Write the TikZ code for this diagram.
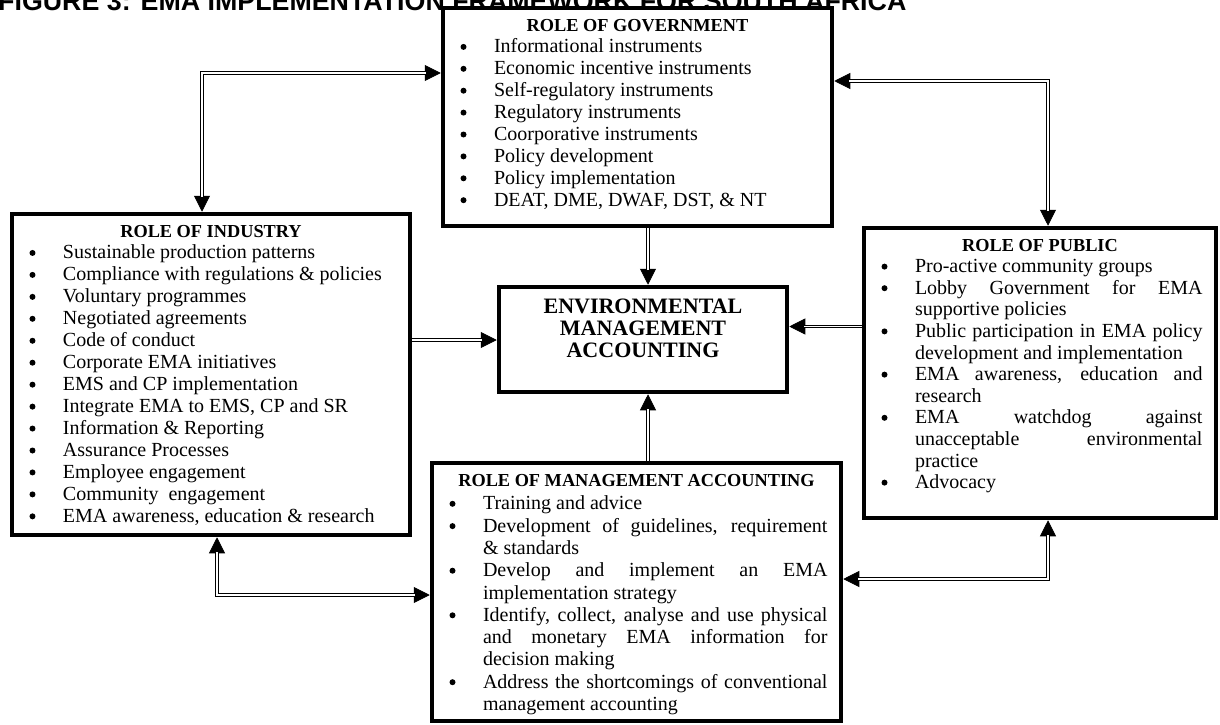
\documentclass[tikz,border=0pt]{standalone}
\usepackage{fontspec}
\setmainfont{Liberation Serif}
\newfontfamily\headfont{Liberation Sans}
\usetikzlibrary{arrows.meta,calc}

\newcommand\ttl[1]{\par{\centering\rule{0pt}{23pt}\bfseries\fontsize{18.3pt}{21.9pt}\selectfont #1\par}}
\newcommand\bul{\tikz[baseline=0pt]\fill[black] (0pt,6pt) circle (3pt);}
\newcommand\itm[1]{\par\noindent\llap{\makebox[33.5pt][l]{\bul}}#1}
\newcommand\boxtext[4]{\parbox[c][#2][t]{#1}{\fontsize{20pt}{#3}\selectfont\leftskip=51pt\rightskip=13.5pt\parindent=0pt\tolerance=10000\hbadness=10000\hyphenpenalty=10000\parfillskip=0pt plus 1fil #4\par}}

\tikzset{
  rolebox/.style={draw, fill=white, line width=4.5pt, inner sep=0pt, rectangle},
  dbl/.style={double, double distance=1.6pt, line width=1.1pt},
  hd/.tip={Triangle[length=16pt,width=16pt]},
  tipline/.style={line width=0.8pt},
}
% a connector: tips drawn with a thin line, then the double line on top of it
\newcommand\conn[3]{\draw[tipline,#1] #3; \draw[dbl,#2] #3;}

\begin{document}
\begin{tikzpicture}[x=1pt,y=-1pt]
\useasboundingbox (0,0) rectangle (1220,725);

% title, cut off at the top edge as in the reference
\node[anchor=base west, inner sep=0pt, font=\headfont\bfseries\fontsize{26.8pt}{30pt}\selectfont] (title) at (-2,11) {FIGURE 3: EMA IMPLEMENTATION FRAMEWORK FOR SOUTH AFRICA};

\node[rolebox] (gov) at (637.5,117) {\boxtext{389pt}{218pt}{21.9pt}{%
\ttl{ROLE OF GOVERNMENT}
\itm{Informational instruments}
\itm{Economic incentive instruments}
\itm{Self-regulatory instruments}
\itm{Regulatory instruments}
\itm{Coorporative instruments}
\itm{Policy development}
\itm{Policy implementation}
\itm{DEAT, DME, DWAF, DST, \& NT}}};

\node[rolebox] (ind) at (211,374.5) {\boxtext{398pt}{321pt}{21.95pt}{%
\ttl{ROLE OF INDUSTRY}
\itm{Sustainable production patterns}
\itm{Compliance with regulations \& policies}
\itm{Voluntary programmes}
\itm{Negotiated agreements}
\itm{Code of conduct}
\itm{Corporate EMA initiatives}
\itm{EMS and CP implementation}
\itm{Integrate EMA to EMS, CP and SR}
\itm{Information \& Reporting}
\itm{Assurance Processes}
\itm{Employee engagement}
\itm{Community\ \ engagement}
\itm{EMA awareness, education \& research}}};

\node[rolebox] (ema) at (643,339.5) {\parbox[c][105pt][t]{288pt}{\centering\bfseries\fontsize{22pt}{22pt}\selectfont\rule{0pt}{26pt}ENVIRONMENTAL\\MANAGEMENT\\ACCOUNTING\par}};

\node[rolebox] (pub) at (1040,373) {\boxtext{352pt}{290pt}{21.6pt}{%
\ttl{ROLE OF PUBLIC}
\itm{Pro-active community groups}
\itm{Lobby Government for EMA\linebreak supportive policies}
\itm{Public participation in EMA policy\linebreak development and implementation}
\itm{EMA awareness, education and\linebreak research}
\itm{EMA watchdog against\linebreak unacceptable environmental\linebreak practice}
\itm{Advocacy}}};

\node[rolebox] (ma) at (636.5,592) {\boxtext{409pt}{258pt}{22.3pt}{%
\ttl{ROLE OF MANAGEMENT ACCOUNTING}\vspace{1.5pt}
\itm{Training and advice}
\itm{Development of guidelines, requirement\linebreak \& standards}
\itm{Develop and implement an EMA\linebreak implementation strategy}
\itm{Identify, collect, analyse and use physical\linebreak and monetary EMA information for\linebreak decision making}
\itm{Address the shortcomings of conventional\linebreak management accounting}}};

% connector corners
\coordinate (c1) at (202,73);
\coordinate (c2) at (1048,81);
\coordinate (c3) at (648,0);
\coordinate (c4) at (0,340);
\coordinate (c5) at (0,326.5);
\coordinate (c7) at (217,595);
\coordinate (c8) at (1048,579);

\conn{hd-hd}{shorten <=15pt, shorten >=15pt}{(gov.west |- c1) -- (c1) -- (c1 |- ind.north)}
\conn{hd-hd}{shorten <=15pt, shorten >=15pt}{(gov.east |- c2) -- (c2) -- (c2 |- pub.north)}
\conn{-hd}{shorten >=15pt}{(c3 |- gov.south) -- (c3 |- ema.north)}
\conn{-hd}{shorten >=15pt}{(ind.east |- c4) -- (ema.west |- c4)}
\conn{-hd}{shorten >=15pt}{(pub.west |- c5) -- (ema.east |- c5)}
\conn{-hd}{shorten >=15pt}{(c3 |- ma.north) -- (c3 |- ema.south)}
\conn{hd-hd}{shorten <=15pt, shorten >=15pt}{(c7 |- ind.south) -- (c7) -- (ma.west |- c7)}
\conn{hd-hd}{shorten <=15pt, shorten >=15pt}{(ma.east |- c8) -- (c8) -- (c8 |- pub.south)}
\end{tikzpicture}
\end{document}
